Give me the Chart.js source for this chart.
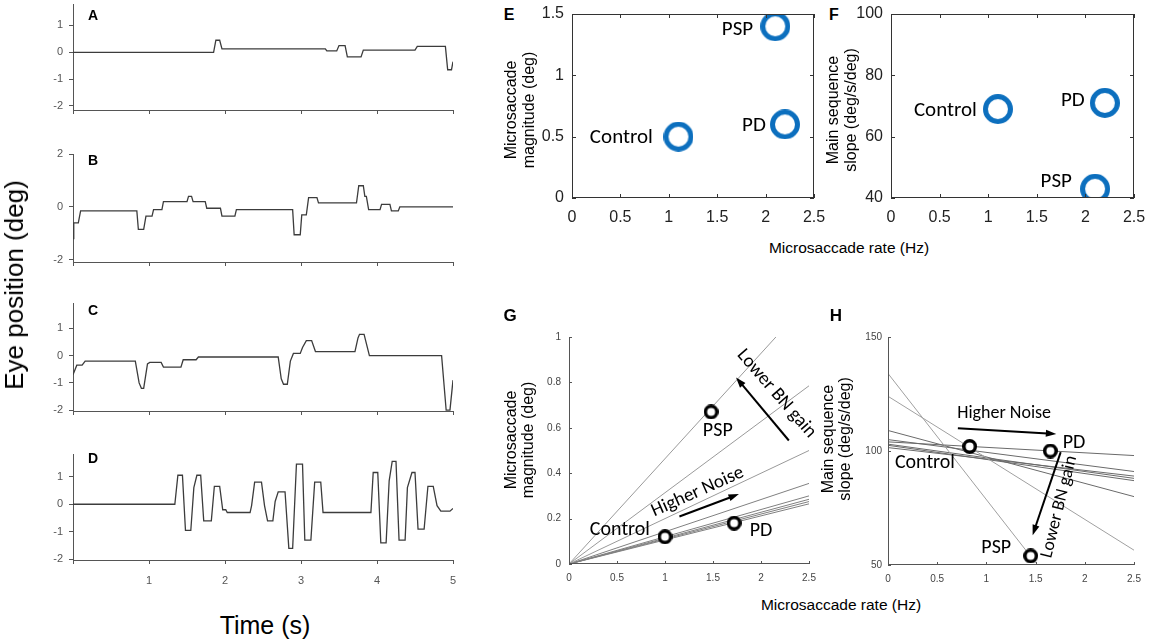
<!DOCTYPE html>
<html>
<head>
<meta charset="utf-8">
<script src="https://cdn.jsdelivr.net/npm/chart.js@4.4.1/dist/chart.umd.min.js"></script>
<style>
html, body { margin: 0; padding: 0; background: #fff; }
#fig { position: relative; width: 1153px; height: 639px; overflow: hidden; font-family: "Liberation Sans", Arial, sans-serif; }
#fig canvas { position: absolute; }
.t { position: absolute; transform: translate(-50%, -50%); white-space: nowrap; line-height: 1; color: #000; z-index: 2; }
.v { transform: translate(-50%, -50%) rotate(-90deg); text-align: center; }
.tag { font-weight: bold; }
</style>
</head>
<body>
<div id="fig">
  <div class="t tag" style="left:93px;top:15px;font-size:14px">A</div>
  <div class="t tag" style="left:93px;top:160px;font-size:14px">B</div>
  <div class="t tag" style="left:93px;top:310px;font-size:14px">C</div>
  <div class="t tag" style="left:93px;top:458px;font-size:14px">D</div>
  <div class="t v" style="left:14px;top:285px;font-size:26px">Eye position (deg)</div>
  <div class="t" style="left:265px;top:625px;font-size:25px">Time (s)</div>

  <div class="t tag" style="left:509px;top:15px;font-size:16px">E</div>
  <div class="t tag" style="left:834px;top:15px;font-size:16px">F</div>
  <div class="t v" style="left:520px;top:110px;font-size:16px;line-height:18px">Microsaccade<br>magnitude (deg)</div>
  <div class="t v" style="left:842px;top:110px;font-size:16px;line-height:18px">Main sequence<br>slope (deg/s/deg)</div>
  <div class="t" style="left:849px;top:248px;font-size:15.5px">Microsaccade rate (Hz)</div>

  <div class="t tag" style="left:510px;top:315px;font-size:17px">G</div>
  <div class="t tag" style="left:836px;top:315px;font-size:17px">H</div>
  <div class="t v" style="left:519px;top:440px;font-size:16px;line-height:17px">Microsaccade<br>magnitude (deg)</div>
  <div class="t v" style="left:836px;top:439px;font-size:16px;line-height:17px">Main sequence<br>slope (deg/s/deg)</div>
  <div class="t" style="left:841px;top:605px;font-size:15.5px">Microsaccade rate (Hz)</div>
</div>
<script>
// eye traces: time (s) and position (deg)
const tA = [0, 1.85, 1.88, 1.93, 1.96, 3.32, 3.34, 3.47, 3.5, 3.58, 3.61, 3.79, 3.82, 4.5, 4.53, 4.9, 4.93, 4.98, 5.0];
const yA = [0, 0, 0.45, 0.45, 0.13, 0.13, 0.05, 0.05, 0.25, 0.25, -0.17, -0.17, 0.08, 0.08, 0.22, 0.22, -0.65, -0.65, -0.35];

const tB = [0, 0.01, 0.07, 0.1, 0.84, 0.86, 0.93, 0.96, 1.04, 1.06, 1.17, 1.19, 1.5, 1.52, 1.56, 1.58, 1.74, 1.76, 1.94, 1.96, 2.13, 2.15, 2.89, 2.91, 2.99, 3.01, 3.07, 3.1, 3.21, 3.23, 3.73, 3.76, 3.82, 3.84, 3.86, 3.89, 4.04, 4.06, 4.17, 4.19, 4.28, 4.3, 5.0];
const yB = [-1.2, -0.6, -0.6, -0.15, -0.15, -0.85, -0.85, -0.35, -0.35, -0.1, -0.1, 0.2, 0.2, 0.4, 0.4, 0.2, 0.2, -0.05, -0.05, -0.35, -0.35, -0.1, -0.1, -1.05, -1.05, -0.3, -0.3, 0.35, 0.35, 0.15, 0.15, 0.8, 0.8, 0.4, 0.4, -0.1, -0.1, 0.1, 0.1, -0.15, -0.15, 0, 0];

const tC = [0, 0.05, 0.12, 0.16, 0.82, 0.87, 0.9, 0.93, 0.98, 1.01, 1.16, 1.19, 1.42, 1.45, 1.62, 1.65, 2.7, 2.74, 2.77, 2.82, 2.86, 2.9, 2.99, 3.02, 3.07, 3.14, 3.19, 3.71, 3.75, 3.77, 3.83, 3.9, 4.85, 4.91, 4.96, 5.0];
const yC = [-0.7, -0.35, -0.35, -0.2, -0.2, -1.0, -1.2, -1.2, -0.3, -0.25, -0.25, -0.42, -0.42, -0.15, -0.15, -0.05, -0.05, -0.85, -1.05, -1.05, -0.2, 0.08, 0.08, 0.3, 0.55, 0.55, 0.15, 0.15, 0.65, 0.78, 0.78, 0, 0, -2.0, -2.0, -0.9];

const tD = [0, 1.34, 1.38, 1.44, 1.48, 1.55, 1.59, 1.63, 1.68, 1.72, 1.82, 1.86, 1.93, 1.97, 2.01, 2.03, 2.33, 2.35, 2.39, 2.48, 2.52, 2.56, 2.63, 2.66, 2.7, 2.79, 2.84, 2.89, 2.94, 3.02, 3.05, 3.13, 3.18, 3.26, 3.29, 3.92, 3.95, 4.01, 4.05, 4.12, 4.16, 4.2, 4.25, 4.29, 4.37, 4.4, 4.46, 4.5, 4.54, 4.62, 4.67, 4.74, 4.79, 4.84, 4.96, 5.0];
const yD = [0, 0, 1.05, 1.05, -0.95, -0.95, 0.6, 1.05, 1.05, -0.6, -0.6, 0.65, 0.65, -0.2, -0.2, -0.3, -0.3, -0.05, 0.8, 0.8, -0.05, -0.6, -0.6, 0.1, 0.45, 0.45, -1.6, -1.6, 1.45, 1.45, -1.3, -1.3, 0.8, 0.8, -0.3, -0.3, 1.15, 1.15, -1.4, -1.4, 0.85, 1.55, 1.55, -1.3, -1.3, 0.6, 1.15, 1.15, -0.9, -0.9, 0.65, 0.65, -0.05, -0.25, -0.25, -0.15];

const timeTicks = [0, 1, 2, 3, 4, 5];
const posTicksA = [-2, -1, 0, 1];
const posTicksB = [-2, 0, 2];
const posTicksC = [-2, -1, 0, 1];
const posTicksD = [-2, -1, 0, 1];

// E / F: group means
const groups = ['Control', 'PD', 'PSP'];
const rateE = [1.1, 2.2, 2.1];
const magE = [0.5, 0.6, 1.4];
const rateF = [1.1, 2.2, 2.1];
const slopeF = [69, 71, 43];
const rateTicks = [0, 0.5, 1, 1.5, 2, 2.5];
const magTicksE = [0, 0.5, 1, 1.5];
const slopeTicksF = [40, 60, 80, 100];

// G / H: model
const rateG = [1.0, 1.72, 1.48];
const magG = [0.12, 0.18, 0.67];
const gLineEnd = [1.16, 0.785, 0.5, 0.355, 0.3, 0.285, 0.275, 0.265]; // magnitude at 2.5 Hz, lines start at origin
const rateH = [0.83, 1.65, 1.45];
const slopeH = [102, 100, 54];
const hLineStart = [134, 124, 109, 105, 104, 103, 102.5, 101.5];
const hLineEndX = [1.5, 2.5, 2.5, 2.5, 2.5, 2.5, 2.5, 2.5];
const hLineEnd = [51, 56.5, 80, 91, 98, 88, 87, 89];
const magTicksG = [0, 0.2, 0.4, 0.6, 0.8, 1];
const slopeTicksH = [50, 100, 150];

const fig = document.getElementById('fig');
const SANS = '"Liberation Sans", Arial, Helvetica, sans-serif';
const LABEL = 'Carlito, Lato, "Open Sans", sans-serif';

function ring(d, lw, color) {
  const c = document.createElement('canvas');
  c.width = d; c.height = d;
  const g = c.getContext('2d');
  g.beginPath();
  g.arc(d / 2, d / 2, d / 2 - lw / 2, 0, Math.PI * 2);
  g.fillStyle = '#fff'; g.fill();
  g.strokeStyle = color; g.lineWidth = lw; g.stroke();
  return c;
}

// matlab style axes, ticks pointing in
function frame(box, len, color) {
  return {
    id: 'frame',
    afterDatasetsDraw(chart) {
      const { ctx, chartArea: a, scales: { x, y } } = chart;
      ctx.save();
      ctx.strokeStyle = color; ctx.lineWidth = 1;
      ctx.beginPath();
      ctx.moveTo(a.left + .5, a.top); ctx.lineTo(a.left + .5, a.bottom - .5); ctx.lineTo(a.right, a.bottom - .5);
      if (box) { ctx.moveTo(a.left, a.top + .5); ctx.lineTo(a.right - .5, a.top + .5); ctx.lineTo(a.right - .5, a.bottom); }
      x.ticks.forEach(t => {
        const p = Math.round(x.getPixelForValue(t.value)) + .5;
        ctx.moveTo(p, a.bottom); ctx.lineTo(p, a.bottom - len);
        if (box) { ctx.moveTo(p, a.top); ctx.lineTo(p, a.top + len); }
      });
      y.ticks.forEach(t => {
        const p = Math.round(y.getPixelForValue(t.value)) + .5;
        ctx.moveTo(a.left, p); ctx.lineTo(a.left + len, p);
        if (box) { ctx.moveTo(a.right, p); ctx.lineTo(a.right - len, p); }
      });
      ctx.stroke();
      ctx.restore();
    }
  };
}

function arrow(ctx, x0, y0, x1, y1) {
  const a = Math.atan2(y1 - y0, x1 - x0), h = 11;
  ctx.beginPath();
  ctx.moveTo(x0, y0);
  ctx.lineTo(x1 - h * 0.8 * Math.cos(a), y1 - h * 0.8 * Math.sin(a));
  ctx.stroke();
  ctx.beginPath();
  ctx.moveTo(x1, y1);
  ctx.lineTo(x1 - h * Math.cos(a - 0.33), y1 - h * Math.sin(a - 0.33));
  ctx.lineTo(x1 - h * Math.cos(a + 0.33), y1 - h * Math.sin(a + 0.33));
  ctx.closePath();
  ctx.fill();
}

function notes(texts, arrows) {
  return {
    id: 'notes',
    afterDatasetsDraw(chart) {
      const { ctx, scales: { x, y } } = chart;
      ctx.save();
      ctx.fillStyle = '#000'; ctx.strokeStyle = '#000'; ctx.lineWidth = 2;
      arrows.forEach(a => arrow(ctx, x.getPixelForValue(a[0]), y.getPixelForValue(a[1]),
                                     x.getPixelForValue(a[2]), y.getPixelForValue(a[3])));
      texts.forEach(n => {
        ctx.save();
        ctx.translate(x.getPixelForValue(n.x), y.getPixelForValue(n.y));
        ctx.rotate((n.rot || 0) * Math.PI / 180);
        ctx.font = n.size + 'px ' + LABEL;
        ctx.textAlign = 'center'; ctx.textBaseline = 'middle';
        ctx.fillText(n.text, 0, 0);
        ctx.restore();
      });
      ctx.restore();
    }
  };
}

function makeChart(plot, yW, xH, padTop, padRight, cfg) {
  const w = plot.r - plot.l + yW + padRight;
  const h = plot.b - plot.t + padTop + xH;
  const c = document.createElement('canvas');
  c.width = w; c.height = h;
  c.style.left = (plot.l - yW) + 'px';
  c.style.top = (plot.t - padTop) + 'px';
  c.style.width = w + 'px'; c.style.height = h + 'px';
  fig.appendChild(c);
  const o = cfg.options;
  o.responsive = false;
  o.animation = false;
  o.events = [];
  o.layout = { padding: { top: padTop, right: padRight, left: 0, bottom: 0 } };
  o.plugins = { legend: { display: false }, tooltip: { enabled: false } };
  o.scales.x.afterFit = s => { s.height = xH; s.paddingLeft = 0; s.paddingRight = 0; };
  o.scales.y.afterFit = s => { s.width = yW; s.paddingTop = 0; s.paddingBottom = 0; };
  return new Chart(c, cfg);
}

function setTicks(list) {
  return s => { s.ticks = list.map(v => ({ value: v })); };
}

// ---------- A-D ----------
function traceChart(plot, xH, t, v, yMin, yMax, yTicks, xLabels) {
  makeChart(plot, 45, xH, 12, 12, {
    type: 'scatter',
    data: { datasets: [{
      data: t.map((tt, i) => ({ x: tt, y: v[i] })),
      showLine: true, borderColor: '#3c3c3c', borderWidth: 1.3, pointRadius: 0, tension: 0
    }] },
    options: {
      scales: {
        x: { type: 'linear', min: 0, max: 5, afterBuildTicks: setTicks(timeTicks),
          grid: { drawOnChartArea: false, drawTicks: true, tickLength: 4, color: '#555' },
          border: { color: '#555' },
          ticks: { color: '#555', padding: 10, maxRotation: 0, autoSkip: false, font: { family: SANS, size: 11 },
            callback: val => (xLabels && val !== 0) ? String(val) : '' } },
        y: { type: 'linear', min: yMin, max: yMax, afterBuildTicks: setTicks(yTicks),
          grid: { drawOnChartArea: false, drawTicks: true, tickLength: 4, color: '#555' },
          border: { color: '#555' },
          ticks: { color: '#555', padding: 6, autoSkip: false, font: { family: SANS, size: 11 },
            callback: val => String(val) } }
      }
    }
  });
}

traceChart({ l: 73, r: 453, t: 4, b: 110 }, 10, tA, yA, -2.15, 1.8, posTicksA, false);
traceChart({ l: 73, r: 453, t: 154, b: 262 }, 10, tB, yB, -2.08, 2, posTicksB, false);
traceChart({ l: 73, r: 453, t: 303, b: 411 }, 10, tC, yC, -2.03, 1.93, posTicksC, false);
traceChart({ l: 73, r: 453, t: 454, b: 560 }, 34, tD, yD, -2.02, 1.82, posTicksD, true);

// ---------- E-H ----------
function rightScale(min, max, ticks, size, pad) {
  return { type: 'linear', min, max, afterBuildTicks: setTicks(ticks),
    grid: { display: false, drawTicks: false }, border: { display: false },
    ticks: { color: size > 12 ? '#222' : '#444', padding: pad, maxRotation: 0, autoSkip: false,
      font: { family: SANS, size }, callback: val => String(val) } };
}

const blueRing = ring(30, 5, '#0c6fbe');
const blackRing = ring(15, 3.5, '#000');

function groupSet(xs, ys, img) {
  return { data: xs.map((x, i) => ({ x, y: ys[i] })), pointStyle: img, pointRadius: 10, showLine: false };
}

// E
makeChart({ l: 572, r: 815, t: 13, b: 198 }, 50, 35, 10, 10, {
  type: 'scatter',
  data: { datasets: [groupSet(rateE, magE, blueRing)] },
  options: { scales: { x: rightScale(0, 2.5, rateTicks, 16, 10), y: rightScale(0, 1.5, magTicksE, 16, 8) } },
  plugins: [frame(true, 4, '#333'), notes([
    { text: groups[0], x: 0.51, y: 0.49, size: 21 },
    { text: groups[1], x: 1.88, y: 0.59, size: 21 },
    { text: groups[2], x: 1.71, y: 1.37, size: 21 }
  ], [])]
});

// F
makeChart({ l: 891, r: 1134, t: 13, b: 198 }, 50, 35, 10, 12, {
  type: 'scatter',
  data: { datasets: [groupSet(rateF, slopeF, blueRing)] },
  options: { scales: { x: rightScale(0, 2.5, rateTicks, 16, 10), y: rightScale(40, 100, slopeTicksF, 16, 8) } },
  plugins: [frame(true, 4, '#333'), notes([
    { text: groups[0], x: 0.56, y: 68.3, size: 21 },
    { text: groups[1], x: 1.87, y: 71.6, size: 21 },
    { text: groups[2], x: 1.7, y: 45.3, size: 21 }
  ], [])]
});

// G
const gLines = gLineEnd.map((e, i) => ({
  data: [{ x: 0, y: 0 }, { x: 2.5, y: e }], showLine: true, pointRadius: 0,
  borderColor: i < 3 ? '#9a9a9a' : '#808080', borderWidth: 1
}));
makeChart({ l: 569, r: 810, t: 336, b: 564 }, 35, 25, 10, 10, {
  type: 'scatter',
  data: { datasets: [groupSet(rateG, magG, blackRing)].concat(gLines) },
  options: { scales: { x: rightScale(0, 2.5, rateTicks, 10, 8), y: rightScale(0, 1, magTicksG, 10, 8) } },
  plugins: [frame(false, 3, '#555'), notes([
    { text: groups[0], x: 0.53, y: 0.15, size: 20 },
    { text: groups[1], x: 2.0, y: 0.146, size: 20 },
    { text: groups[2], x: 1.55, y: 0.588, size: 20 },
    { text: 'Higher Noise', x: 1.34, y: 0.317, size: 19, rot: -24 },
    { text: 'Lower BN gain', x: 2.16, y: 0.75, size: 19, rot: 49 }
  ], [[1.15, 0.209, 1.77, 0.308], [2.29, 0.544, 1.74, 0.822]])]
});

// H
const hLines = hLineStart.map((s, i) => ({
  data: [{ x: 0, y: s }, { x: hLineEndX[i], y: hLineEnd[i] }], showLine: true, pointRadius: 0,
  borderColor: i < 2 ? '#a0a0a0' : '#6a6a6a', borderWidth: 1
}));
makeChart({ l: 888, r: 1134, t: 336, b: 565 }, 35, 25, 10, 12, {
  type: 'scatter',
  data: { datasets: [groupSet(rateH, slopeH, blackRing)].concat(hLines) },
  options: { scales: { x: rightScale(0, 2.5, rateTicks, 10, 8), y: rightScale(50, 150, slopeTicksH, 10, 6) } },
  plugins: [frame(false, 3, '#555'), notes([
    { text: groups[0], x: 0.375, y: 94.7, size: 20 },
    { text: groups[1], x: 1.89, y: 103.4, size: 20 },
    { text: groups[2], x: 1.1, y: 57.3, size: 20 },
    { text: 'Higher Noise', x: 1.18, y: 116.5, size: 18 },
    { text: 'Lower BN gain', x: 1.74, y: 75.5, size: 18, rot: -76 }
  ], [[0.71, 110, 1.71, 107.5], [1.755, 99.5, 1.47, 63.1]])]
});
</script>
</body>
</html>
